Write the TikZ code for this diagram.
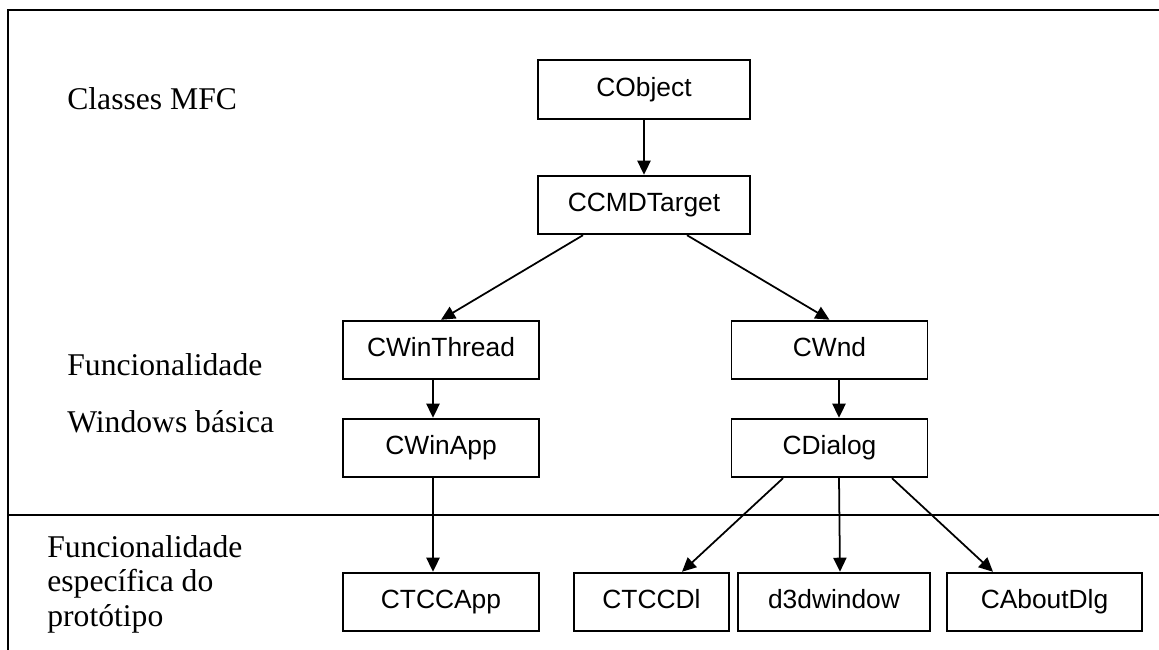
\documentclass[tikz,border=0pt]{standalone}
\usepackage{fontspec}
\setmainfont{Liberation Serif}
\newfontfamily\boxfont{Liberation Sans}
\usetikzlibrary{arrows.meta}

\begin{document}
\begin{tikzpicture}[>={Triangle[length=8pt,width=7.5pt]},
		classe/.style={draw,line width=1.1pt,minimum height=1.17cm,inner sep=0pt,text height=10.8pt,text depth=3.2pt,font=\boxfont\fontsize{15}{18}\selectfont},
		rotulo/.style={anchor=base west,inner sep=0pt,font=\fontsize{18}{19.6}\selectfont},
		heranca/.style={->,line width=1pt}]
		\useasboundingbox (0,0) rectangle (23.18,13);
		% moldura
		\draw[line width=1.4pt] (23.18,12.8) -- (0.16,12.8) -- (0.16,0);
		\draw[line width=1.4pt] (0.16,2.7) -- (23.18,2.7);
		% rotulos
		\node[rotulo] (mfc) at (1.34,10.8) {Classes MFC};
		\node[rotulo] (func) at (1.34,5.48) {Funcionalidade};
		\node[rotulo] (win) at (1.34,4.34) {Windows básica};
		\node[rotulo,anchor=north west,align=left] (espec) at (0.94,2.3) {Funcionalidade\\específica do\\protótipo};
		% classes
		\node[classe,minimum width=4.24cm] (cobject) at (12.88,11.21) {CObject};
		\node[classe,minimum width=4.24cm] (ccmdtarget) at (12.88,8.9) {CCMDTarget};
		\node[classe,minimum width=3.92cm] (cwinthread) at (8.82,6.0) {CWinThread};
		\node[classe,minimum width=3.92cm] (cwinapp) at (8.82,4.04) {CWinApp};
		\node[classe,minimum width=3.92cm] (cwnd) at (16.59,6.0) {CWnd};
		\node[classe,minimum width=3.92cm] (cdialog) at (16.59,4.04) {CDialog};
		\node[classe,minimum width=3.92cm] (ctccapp) at (8.82,0.96) {CTCCApp};
		\node[classe,minimum width=3.1cm] (ctccdl) at (13.03,0.96) {CTCCDl};
		\node[classe,minimum width=3.84cm] (d3dwindow) at (16.68,0.96) {d3dwindow};
		\node[classe,minimum width=3.9cm] (caboutdlg) at (20.89,0.96) {CAboutDlg};
		% heranca
		\draw[heranca] (cobject) -- (ccmdtarget);
		\draw[heranca] ([xshift=-1.22cm]ccmdtarget.south) -- (cwinthread.north);
		\draw[heranca] ([xshift=0.86cm]ccmdtarget.south) -- (cwnd.north);
		\draw[heranca] ([xshift=-0.16cm]cwinthread.south) -- ([xshift=-0.16cm]cwinapp.north);
		\draw[heranca] ([xshift=-0.16cm]cwinapp.south) -- ([xshift=-0.16cm]ctccapp.north);
		\draw[heranca] ([xshift=0.19cm]cwnd.south) -- ([xshift=0.19cm]cdialog.north);
		\draw[heranca] ([xshift=-0.93cm]cdialog.south) -- ([xshift=0.61cm]ctccdl.north);
		\draw[heranca] ([xshift=0.19cm]cdialog.south) -- ([xshift=0.12cm]d3dwindow.north);
		\draw[heranca] ([xshift=1.25cm]cdialog.south) -- ([xshift=-1.03cm]caboutdlg.north);
		
		\end{tikzpicture}
\end{document}
